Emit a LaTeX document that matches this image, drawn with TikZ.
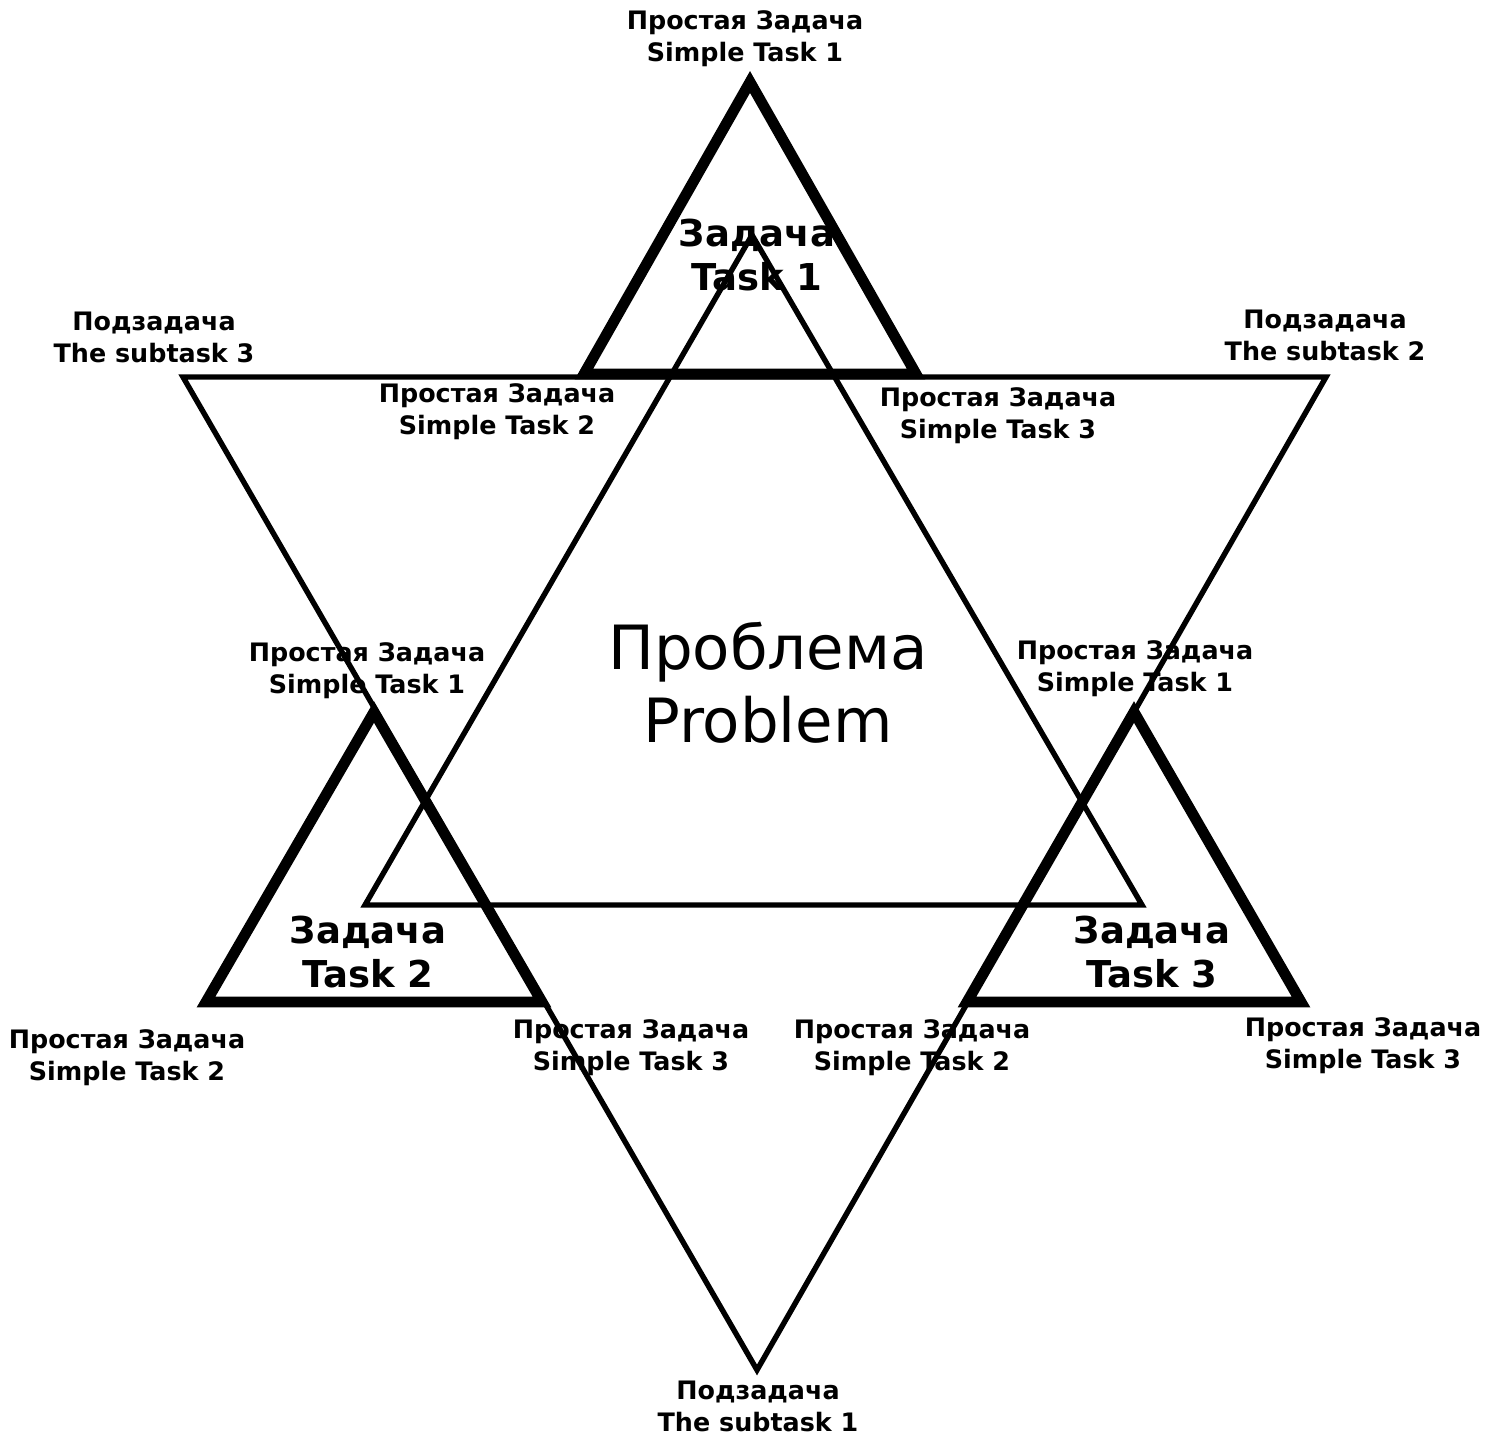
\documentclass[tikz,border=0pt]{standalone}
\usepackage{fontspec}
\setmainfont{DejaVu Sans}
\begin{document}
\begin{tikzpicture}[x=0.5pt,y=-0.5pt,
  thinline/.style={line width=2.7pt, line join=miter},
  thickline/.style={line width=5.4pt, line join=miter},
  small/.style={align=center, inner sep=0pt, font=\fontsize{12.7}{16}\selectfont\bfseries},
  task/.style={align=center, inner sep=0pt, font=\fontsize{18.5}{22}\selectfont\bfseries},
  problem/.style={align=center, inner sep=0pt, font=\fontsize{30.5}{36.5}\selectfont}]
\useasboundingbox (0,0) rectangle (1503,1439);
% vertices
\coordinate (A) at (183,377);
\coordinate (B) at (1326,377);
\coordinate (C) at (757,1370);
\coordinate (D) at (752,235);
\coordinate (E) at (365,905);
\coordinate (F) at (1142,905);
\coordinate (T1a) at (750,82);
\coordinate (T1b) at (584,374);
\coordinate (T1c) at (916,374);
\coordinate (T2a) at (374,712);
\coordinate (T2b) at (206,1002);
\coordinate (T2c) at (542,1002);
\coordinate (T3a) at (1134,712);
\coordinate (T3b) at (967,1002);
\coordinate (T3c) at (1301,1002);
% labels
\node[small] (st1top) at (745,39) {Простая Задача\\Simple Task 1};
\node[task] (task1) at (757,255) {Задача\\Task 1};
\node[small] (sub3) at (154,337) {Подзадача\\The subtask 3};
\node[small] (sub2) at (1325,335) {Подзадача\\The subtask 2};
\node[small] (st2top) at (497,412) {Простая Задача\\Simple Task 2};
\node[small] (st3top) at (998,416) {Простая Задача\\Simple Task 3};
\node[problem] (prob) at (768,683) {Проблема\\Problem};
\node[small] (st1left) at (367,671) {Простая Задача\\Simple Task 1};
\node[small] (st1right) at (1135,669) {Простая Задача\\Simple Task 1};
\node[task] (task2) at (368,952) {Задача\\Task 2};
\node[task] (task3) at (1152,952) {Задача\\Task 3};
\node[small] (st2bl) at (127,1058) {Простая Задача\\Simple Task 2};
\node[small] (st3bm) at (631,1048) {Простая Задача\\Simple Task 3};
\node[small] (st2bm) at (912,1048) {Простая Задача\\Simple Task 2};
\node[small] (st3br) at (1363,1046) {Простая Задача\\Simple Task 3};
\node[small] (sub1) at (758,1406) {Подзадача\\The subtask 1};
% triangles
\draw[thinline] (A) -- (B) -- (C) -- cycle;
\draw[thinline] (D) -- (E) -- (F) -- cycle;
\draw[thickline] (T1a) -- (T1b) -- (T1c) -- cycle;
\draw[thickline] (T2a) -- (T2b) -- (T2c) -- cycle;
\draw[thickline] (T3a) -- (T3b) -- (T3c) -- cycle;
\end{tikzpicture}
\end{document}
